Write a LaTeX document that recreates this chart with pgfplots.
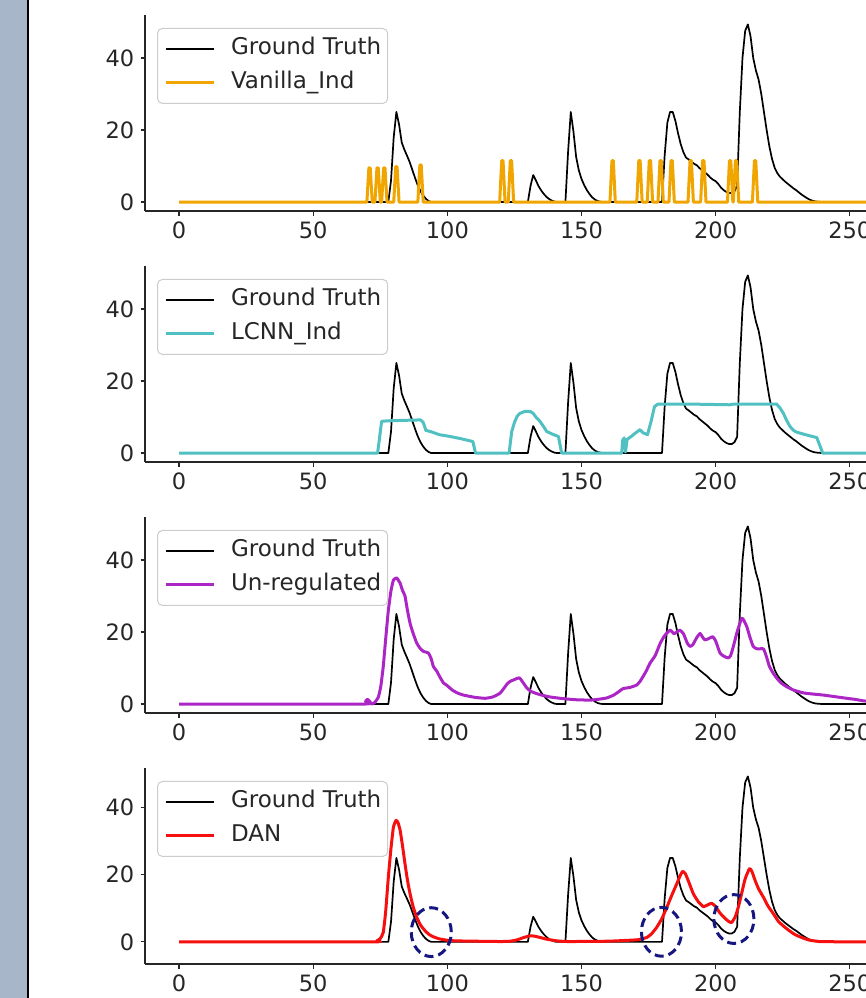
\documentclass[border=0pt]{standalone}
\usepackage{fontspec}
\setmainfont{DejaVu Sans}
\usepackage{pgfplots}
\usepackage{pgfplotstable}
\pgfplotsset{compat=1.18}

\definecolor{strip}{RGB}{167,183,201}
\definecolor{spine}{RGB}{38,38,38}
\definecolor{vanilla}{RGB}{240,165,0}
\definecolor{lcnn}{RGB}{80,192,194}
\definecolor{unreg}{RGB}{172,38,198}
\definecolor{dan}{RGB}{245,15,15}
\definecolor{circ}{RGB}{22,22,128}

% ground truth, the same in every panel
\pgfplotstableread{
x y
0 0
78 0
79 6
80 18
81 25
82 21.5
83 16.5
84 14.5
85 12.8
86 11
87 8.8
88 6.6
89 4.6
90 3
91 1.8
92 0.9
93 0.3
94 0
130 0
131 4.5
132 7.5
133 6
134 4.4
135 3.2
136 2.2
137 1.4
138 0.8
139 0.4
140 0.1
141 0
144 0
145 14
146 25
147 19.5
148 12.5
149 8.8
150 6.4
151 4.7
152 3.3
153 2.2
154 1.3
155 0.7
156 0.3
157 0.1
158 0
180 0
181 13
182 22
183 25
184 25
185 22.5
186 19
187 16
188 13.8
189 12.3
190 11.8
191 11.2
192 10.6
193 10.2
194 9.4
195 8.8
196 8.2
197 7.6
198 6.8
199 6.2
200 5.8
201 5
202 4
203 3.3
204 2.8
205 2.5
206 2.5
207 3
208 4.5
209 25
210 40
211 47.5
212 49.3
213 46
214 40
215 36.5
216 34
217 30
218 25
219 20
220 15.5
221 12
222 9.5
223 8
224 7
225 6.3
226 5.6
227 5
228 4.4
229 3.8
230 3.3
231 2.7
232 2.1
233 1.6
234 1.1
235 0.7
236 0.4
237 0.2
238 0.1
240 0
258 0
}\gt

\pgfplotsset{
  /pgf/number format/assume math mode=true,
  panel/.style={
    scale only axis, width=749.6pt, height=196pt,
    xmin=-12.7, xmax=266.7, ymin=-2.48, ymax=51.9,
    axis x line=bottom, axis y line=left,
    axis line style={-, line width=1.25pt, color=spine},
    tick align=outside, major tick length=4.5pt,
    tick style={line width=1.25pt, color=spine},
    xtick={0,50,100,150,200,250}, ytick={0,20,40}, minor tick num=0,
    tick label style={font=\fontsize{22.5}{26}\selectfont, text=spine},
    xticklabel style={inner sep=0pt, yshift=-6pt},
    yticklabel style={inner sep=0pt, xshift=-6pt},
    legend cell align=left,
    legend image code/.code={\draw[##1] (0pt,0pt) -- (48pt,0pt);},
    legend style={at={(0.016,0.934)}, anchor=north west,
      draw=black!20, line width=1pt, rounded corners=5pt,
      fill=white, fill opacity=0.8, text opacity=1,
      font=\fontsize{23}{26}\selectfont, text=spine,
      inner xsep=6.5pt, inner ysep=10pt, column sep=16pt, row sep=13pt,
      nodes={inner sep=0pt, text height=16.5pt, text depth=4.5pt}},
  },
  gt/.style={black, line width=1.7pt, line join=round},
  pred/.style={line width=3pt, line join=round},
}

\begin{document}
\begin{tikzpicture}
\useasboundingbox (0,0) rectangle (866pt,-998pt);
\fill[strip] (0,0) rectangle (26.5pt,-998pt);
\draw[black, line width=2.7pt] (27.9pt,0) -- (27.9pt,-998pt);

% panel 1
\begin{axis}[panel, at={(145pt,-15pt)}, anchor=north west]
\addplot[gt] table {\gt};
\addlegendentry{Ground Truth}
\addplot[pred, vanilla] coordinates {(0,0) (70,0) (70.75,9.5) (71.25,9.5) (72,0) (73,0) (73.75,9.5) (74.25,9.5) (75,0) (75.5,0) (76.25,9.5) (76.75,9.5) (77.5,0)
(80,0) (80.75,9.8) (81.25,9.8) (82,0) (89,0) (89.75,10.3) (90.25,10.3) (91,0)
(119.5,0) (120.25,11.5) (120.75,11.5) (121.5,0) (122.7,0) (123.45,11.5) (123.95,11.5) (124.7,0)
(160.6,0) (161.35,11.5) (161.85,11.5) (162.6,0) (170.6,0) (171.35,11.5) (171.85,11.5) (172.6,0)
(174.5,0) (175.25,11.5) (175.75,11.5) (176.5,0) (178.5,0) (179.25,11.5) (179.75,11.5) (180.5,0)
(182.6,0) (183.35,11.5) (183.85,11.5) (184.6,0) (189.7,0) (190.45,11.5) (190.95,11.5) (191.7,0)
(194.4,0) (195.15,11.5) (195.65,11.5) (196.4,0) (204.4,0) (205.15,11.5) (205.65,11.5) (206.4,0)
(206.6,0) (207.35,11.5) (207.85,11.5) (208.6,0) (213.7,0) (214.45,11.5) (214.95,11.5) (215.7,0) (258,0)};
\addlegendentry{Vanilla\_Ind}
\end{axis}

% panel 2
\begin{axis}[panel, at={(145pt,-266pt)}, anchor=north west]
\addplot[gt] table {\gt};
\addlegendentry{Ground Truth}
\addplot[pred, lcnn] coordinates {(0,0) (74,0) (75.5,8.8) (77,8.9) (80,9) (85,9.1) (90,9.2) (91,8.5) (92,6.3) (94,5.9) (97,5.1) (101,4.6) (105,4) (109.5,3.2) (110.5,0)
(123,0) (124,6) (125,8.5) (126,10.2) (127,11) (129,11.6) (131,11.5) (132,11) (133,10) (134.5,8.8) (136,7.2) (137,6) (139,5.3) (141.4,4.6) (142.6,0)
(165,0) (165.3,3.5) (165.9,4.2) (166.4,0.3) (167,3.8) (168.5,4.6) (170,5.5) (171.8,6.5) (173,5.6) (174.6,5.1) (176,9) (177.2,12.9) (178.5,13.6) (190,13.6) (205,13.4) (207,13.6)
(222.7,13.6) (224,12.5) (225.2,11.1) (226.5,9) (227.7,7.4) (229,6.3) (230.2,5.8) (233,5.2) (235,4.8) (237.7,4.3) (239.9,0) (258,0)};
\addlegendentry{LCNN\_Ind}
\end{axis}

% panel 3
\begin{axis}[panel, at={(145pt,-517pt)}, anchor=north west]
\addplot[gt] table {\gt};
\addlegendentry{Ground Truth}
\addplot[pred, unreg, smooth, tension=0.3] coordinates {(0,0) (68.5,0) (69.5,0.8) (70.2,1.3) (71,0.8) (71.8,0) (73,0.5) (74.3,2) (75.2,5) (76.1,10.4) (77,18) (78,26) (79,31.5) (79.9,34.4) (81.1,35) (82.4,33.5) (83.3,31.5) (84.2,30) (85,26.5) (86.1,22.4) (87.3,19.5) (88.6,16.9) (89.8,15.5) (91.1,14.6) (92.9,14.2) (94,12.5) (94.8,10.4) (96,9.2) (97,7.8) (98.5,5.9) (99.8,5.2) (102,3.8) (104,3) (106,2.5) (110,1.9) (114,1.6) (117,2) (119.6,3) (121,4.3) (122.3,5.6) (123.4,6.3) (125,6.8) (126.8,7.3) (128,6.2) (129.6,4.5) (131,3.6) (132.5,3.1) (134.6,2.6) (138,2) (143.2,1.5) (148,1.2) (153.2,1.1) (156,1.3) (159.4,1.7) (162,2.5) (164,3.5) (165.5,4.3) (168,4.6) (170.6,5.3) (172,6.5) (174,9) (175.5,11.3) (177.5,13.5) (179.3,16.8) (181,19) (183,20.5) (184.5,19.5) (185.5,20) (186.7,20.5) (188,19.5) (189.5,16.8) (190.5,16) (191.5,16.5) (193,18.5) (194.2,19.6) (195,18.7) (196,17.8) (197.5,18.2) (198.9,18.7) (200,17.5) (201.6,14.2) (203,13.3) (204.7,12.8) (205.6,13.5) (206.6,16) (208,20) (209.7,23.8) (210.5,23.2) (211.6,21.5) (212.8,18.5) (214,16) (215.5,15.3) (217.8,15.3) (219,13) (220,10.5) (221.5,8.5) (223,7) (224.5,5.8) (226.5,4.8) (229,3.9) (232.7,3.1) (236,2.8) (240.1,2.5) (244,2.1) (248.9,1.6) (252,1.3) (255,0.9) (258,0.7)};
\addlegendentry{Un-regulated}
\end{axis}

% panel 4
\begin{axis}[panel, ymin=-6.6, ymax=51.8, at={(145pt,-768pt)}, anchor=north west]
\addplot[gt] table {\gt};
\addlegendentry{Ground Truth}
\addplot[pred, dan, smooth, tension=0.3] coordinates {(0,0) (72,0) (73.7,0.3) (75,1) (76.1,2.8) (77,9) (78,19.3) (79,28) (79.9,34.2) (80.9,36.2) (81.6,35.5) (82.4,33.2) (83.3,28.5) (84.2,23.3) (85.1,18.5) (86.1,14.3) (87.3,10.3) (88.6,7.3) (90,5) (91.7,3.3) (93.2,2.2) (94.8,1.5) (97,0.9) (99.8,0.5) (103,0.3) (110,0.2) (120,0.1) (123.4,0.2) (126,0.6) (128.5,1.3) (130.8,1.8) (132.5,1.7) (134.6,1.3) (137,0.8) (140.8,0.3) (145,0.1) (160,0.2) (170.6,0.6) (172.5,0.9) (174.3,1.3) (176,2.3) (178,4.3) (180,7) (181.8,10.3) (183.6,13.8) (185.5,17.3) (186.7,19.6) (187.7,21) (188.7,20.3) (189.8,18.2) (191.7,14.3) (193.5,12) (195.4,10.5) (197,11) (198.5,11.5) (200,10.5) (201.6,8.6) (203.5,7) (205,6) (206,5.8) (207.3,7.5) (208.5,10.5) (210,15.5) (211,18.8) (212.6,21.8) (213.5,21) (214.7,18.3) (216,15.8) (217.8,13.3) (219.5,10.7) (221.5,8.4) (223.5,6) (226.5,3.9) (229.5,2.2) (232.7,1.1) (235,0.5) (237.7,0.2) (240,0.05) (258,0)};
\addlegendentry{DAN}
\addplot[only marks, mark=o, mark size=22pt, circ, forget plot,
  mark options={xscale=0.91, yscale=1.11, line width=3pt, dash pattern=on 9pt off 5pt}]
  coordinates {(94,2.9) (179.8,3) (206.8,6.8)};
\end{axis}
\end{tikzpicture}
\end{document}
